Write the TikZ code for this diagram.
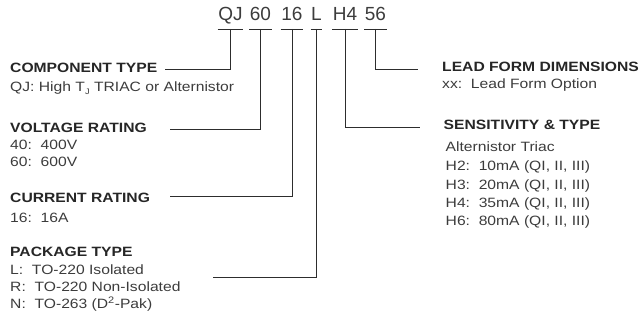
\documentclass[tikz,border=0pt]{standalone}
\usepackage{fontspec}
\setmainfont{Liberation Sans}[FakeStretch=1.16]
\newfontfamily\codefont{Liberation Sans}
\usetikzlibrary{positioning}
\definecolor{inkgray}{RGB}{60,60,60}
\definecolor{headink}{RGB}{38,38,38}
\definecolor{linegray}{RGB}{45,45,45}

\begin{document}
\begin{tikzpicture}[x=1pt, y=-1pt,
  code/.style={anchor=base, inner xsep=0.5pt, inner ysep=0pt, text=inkgray,
    font=\codefont\fontsize{19}{20}\selectfont},
  head/.style={anchor=base west, inner sep=0pt, text=headink,
    font=\fontsize{13.5}{16}\selectfont\bfseries},
  desc/.style={anchor=base west, inner sep=0pt, text=inkgray,
    font=\fontsize{13.5}{16}\selectfont},
  lead/.style={draw=linegray, line width=0.8pt}
]
\useasboundingbox (0,0) rectangle (641,320);

% part number
\node[code] (qj) at (230.5,21) {QJ};
\node[code] (volt) at (260.5,21) {60};
\node[code] (curr) at (292,21) {16};
\node[code] (pkg) at (316.5,21) {L};
\node[code] (sens) at (345,21) {H4};
\node[code] (form) at (375.5,21) {56};
\coordinate (ul) at (0,29);
\foreach \p in {qj,volt,curr,pkg,sens,form}
  \draw[lead] (\p.west |- ul) -- (\p.east |- ul);

% left column
\node[head] (comphd) at (10,73) {COMPONENT TYPE};
\node[desc] (comp1) at (10,92) {QJ: High T\raisebox{-2.5pt}{\fontsize{8}{8}\selectfont J} TRIAC or Alternistor};

\node[head] (volthd) at (10,133) {VOLTAGE RATING};
\node[desc] (volt1) at (10,149.5) {40:\ \ 400V};
\node[desc] (volt2) at (10,166.5) {60:\ \ 600V};

\node[head] (currhd) at (10,203) {CURRENT RATING};
\node[desc] (curr1) at (10,223) {16:\ \ 16A};

\node[head] (pkghd) at (10,257) {PACKAGE TYPE};
\node[desc] (pkg1) at (10,275) {L:\ \ TO-220 Isolated};
\node[desc] (pkg2) at (10,292) {R:\ \ TO-220 Non-Isolated};
\node[desc] (pkg3) at (10,309) {N:\ \ TO-263 (D\textsuperscript{2}-Pak)};

% right column
\node[head] (formhd) at (442,72) {LEAD FORM DIMENSIONS};
\node[desc] (form1) at (442,88.5) {xx:\ \ Lead Form Option};

\node[head] (senshd) at (443.5,130) {SENSITIVITY \& TYPE};
\node[desc] (sens0) at (445.5,151.5) {Alternistor Triac};
\node[desc] (sens1) at (445.5,171) {H2:\ \ 10mA (QI, II, III)};
\node[desc] (sens2) at (445.5,189.3) {H3:\ \ 20mA (QI, II, III)};
\node[desc] (sens3) at (445.5,207.6) {H4:\ \ 35mA (QI, II, III)};
\node[desc] (sens4) at (445.5,226) {H6:\ \ 80mA (QI, II, III)};

% leader ends
\coordinate (compend) at (165,69);
\coordinate (voltend) at (170,129);
\coordinate (currend) at (170,196);
\coordinate (pkgend) at (213,277);
\coordinate (sensend) at (420,127);
\coordinate (formend) at (418,69);

\foreach \x/\y in {qj/compend,volt/voltend,curr/currend,pkg/pkgend,sens/sensend,form/formend}
  \draw[lead] (\x |- ul) |- (\y);
\end{tikzpicture}
\end{document}
